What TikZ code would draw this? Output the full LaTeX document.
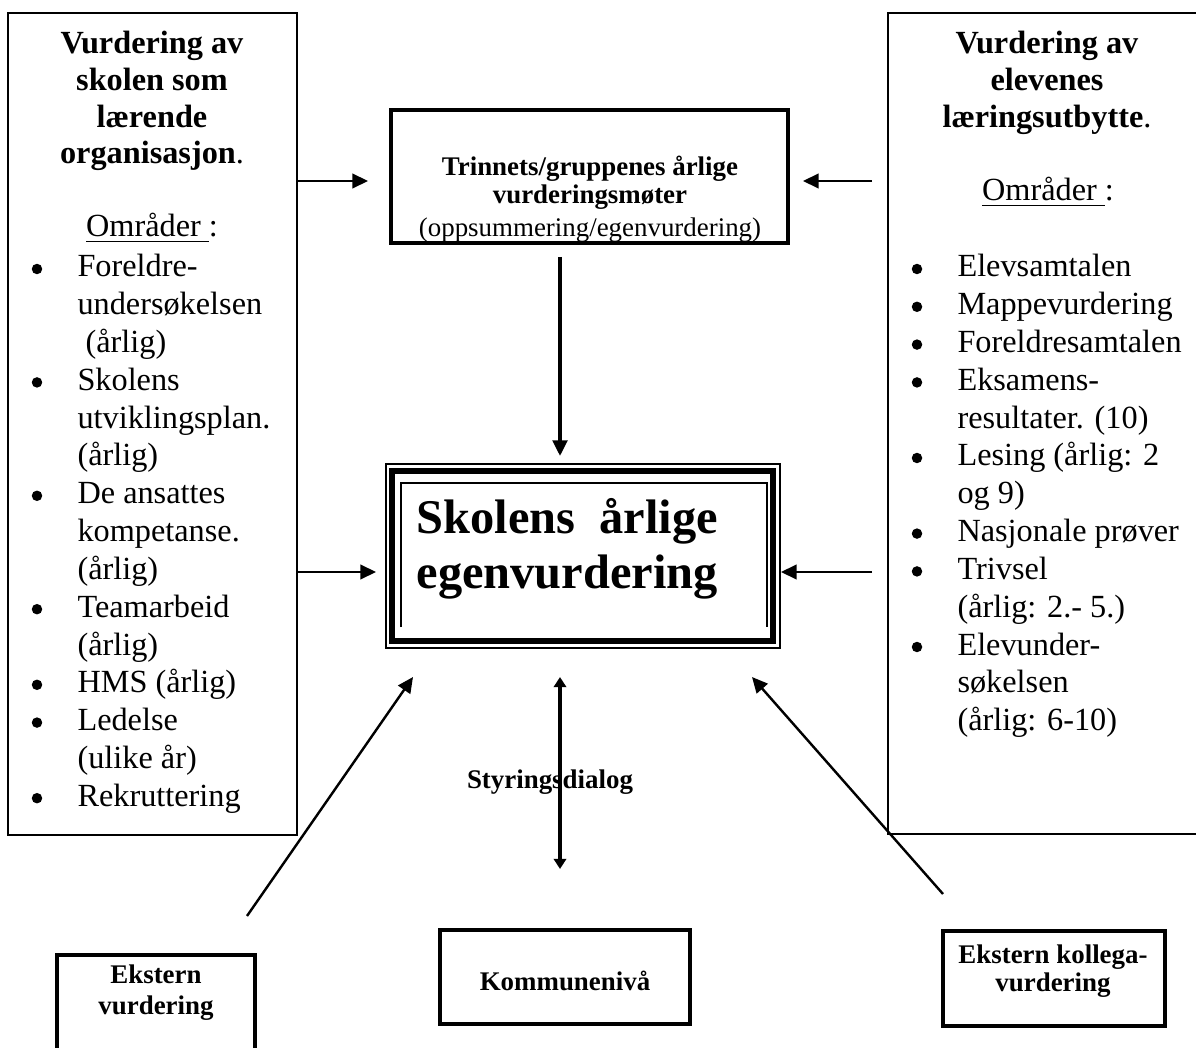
\documentclass[tikz,border=0pt]{standalone}
\usepackage{fontspec}
\setmainfont{Liberation Serif}
\usetikzlibrary{arrows.meta,fit}
\begin{document}
\begin{tikzpicture}[x=0.3717pt,y=-0.3717pt,
  thinbox/.style={draw, line width=0.75pt, inner sep=0pt},
  thickbox/.style={draw, line width=1.8pt, inner sep=0pt},
  body/.style={font=\fontsize{12}{13.9}\selectfont, inner sep=0pt},
  head/.style={font=\fontsize{12}{13.9}\selectfont\bfseries, inner sep=0pt, anchor=base},
  small/.style={font=\fontsize{10}{11}\selectfont\bfseries, inner sep=0pt, anchor=base},
  big/.style={font=\fontsize{18}{21}\selectfont\bfseries, inner sep=0pt, anchor=base west},
  bul/.style={circle, fill, inner sep=0pt, minimum size=3.9pt},
  arr/.style={-{Triangle[length=5.8pt,width=5.4pt]}, line width=0.9pt},
  darr/.style={{Triangle[length=3.8pt,width=4.6pt]}-{Triangle[length=3.8pt,width=4.6pt]}, line width=1.5pt}]
\useasboundingbox (0,0) rectangle (1196,1048);
\clip (0,0) rectangle (1196,1048);
\fill[white] (0,0) rectangle (1196,1048);

% ---------- left box ----------
\node[thinbox, fit={(8,13) (297,835)}] (L) {};
\node[head] (lh1) at (152,54) {Vurdering av};
\node[head] (lh2) at (152,91) {skolen som};
\node[head] (lh3) at (152,128) {lærende};
\node[head] (lh4) at (152,164) {organisasjon{\mdseries.}};
\node[body, anchor=base] (lo) at (152,237) {\underline{Områder\ }:};
\foreach \b/\t [count=\i] in {1/Foreldre-, 0/undersøkelsen, 0/{\ (årlig)}, 1/Skolens, 0/utviklingsplan., 0/(årlig), 1/De ansattes, 0/kompetanse., 0/(årlig), 1/Teamarbeid, 0/(årlig), 1/HMS (årlig), 1/Ledelse, 0/(ulike år), 1/Rekruttering}{
  \pgfmathsetmacro\yy{277+37.8*(\i-1)}
  \node[body, anchor=base west] (l\i) at (77,\yy) {\t};
  \ifnum\b=1 \node[bul] (lb\i) at (37,\yy-8) {};\fi
}

% ---------- right box ----------
\node[thinbox, fit={(888,13) (1210,834)}] (R) {};
\node[head] (rh1) at (1047,54) {Vurdering av};
\node[head] (rh2) at (1047,91) {elevenes};
\node[head] (rh3) at (1047,128) {læringsutbytte{\mdseries.}};
\node[body, anchor=base] (ro) at (1048,201) {\underline{Områder\ }:};
\foreach \b/\t [count=\i] in {1/Elevsamtalen, 1/Mappevurdering, 1/Foreldresamtalen, 1/Eksamens-, 0/resultater. (10), 1/Lesing (årlig: 2, 0/og 9), 1/Nasjonale prøver, 1/Trivsel, 0/(årlig: 2.- 5.), 1/Elevunder-, 0/søkelsen, 0/(årlig: 6-10)}{
  \pgfmathsetmacro\yy{277+37.8*(\i-1)}
  \node[body, anchor=base west] (r\i) at (957,\yy) {\t};
  \ifnum\b=1 \node[bul] (rb\i) at (917,\yy-8) {};\fi
}

% ---------- top middle box ----------
\node[small] (t1) at (590,176) {Trinnets/gruppenes årlige};
\node[small] (t2) at (590,204) {vurderingsmøter};
\node[small, font=\fontsize{10}{11}\selectfont] (t3) at (590,236) {(oppsummering/egenvurdering)};
\node[thickbox, fit={(391,110) (788,243)}] (T) {};

% ---------- central box ----------
\draw[line width=0.7pt] (386,464) rectangle (780,648);
\node[draw, line width=2.3pt, inner sep=0pt, fit={(392,471) (773,641)}] (C) {};
\draw[line width=0.7pt] (401,627) -- (401,483) -- (767,483) -- (767,627);
\node[big] (c1) at (416,533) {Skolens\ \ årlige};
\node[big] (c2) at (416,588) {egenvurdering};

% ---------- bottom boxes ----------
\node[thickbox, fit={(57,955) (255,1070)}] (E) {};
\node[small] (e1) at (156,983) {Ekstern};
\node[small] (e2) at (156,1014) {vurdering};

\node[thickbox, fit={(440,930) (690,1024)}] (K) {};
\node[small] (k1) at (565,990) {Kommunenivå};

\node[thickbox, fit={(943,931) (1165,1026)}] (EK) {};
\node[small] (ek1) at (1053,963) {Ekstern kollega-};
\node[small] (ek2) at (1053,991) {vurdering};

% ---------- connectors ----------
\coordinate (a1s) at (297,181); \coordinate (a1e) at (368,181);
\coordinate (a2s) at (872,181); \coordinate (a2e) at (803,181);
\coordinate (a3s) at (560,257); \coordinate (a3e) at (560,456);
\coordinate (a4s) at (297,572); \coordinate (a4e) at (376,572);
\coordinate (a5s) at (872,572); \coordinate (a5e) at (781,572);
\coordinate (a6s) at (560,677); \coordinate (a6e) at (560,869);
\coordinate (a7s) at (247,916); \coordinate (a7e) at (413,677);
\coordinate (a8s) at (943,894); \coordinate (a8e) at (752,677);

\node[small] (sd) at (550,788) {Styringsdialog};

\draw[arr] (a1s) -- (a1e);
\draw[arr] (a2s) -- (a2e);
\draw[arr, line width=1.3pt] (a3s) -- (a3e);
\draw[arr] (a4s) -- (a4e);
\draw[arr] (a5s) -- (a5e);
\draw[darr] (a6s) -- (a6e);
\draw[arr] (a7s) -- (a7e);
\draw[arr] (a8s) -- (a8e);
\end{tikzpicture}
\end{document}
